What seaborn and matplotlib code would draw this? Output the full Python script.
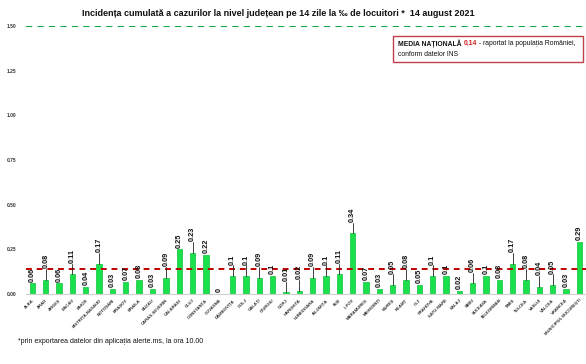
import matplotlib
matplotlib.use("Agg")
import matplotlib.pyplot as plt
import seaborn as sns
import pandas as pd

judete = ["ALBA", "ARAD", "ARGEȘ", "BACĂU", "BIHOR", "BISTRIȚA-NĂSĂUD", "BOTOȘANI",
          "BRAȘOV", "BRĂILA", "BUZĂU", "CARAȘ-SEVERIN", "CĂLĂRAȘI", "CLUJ", "CONSTANȚA",
          "COVASNA", "DÂMBOVIȚA", "DOLJ", "GALAȚI", "GIURGIU", "GORJ", "HARGHITA",
          "HUNEDOARA", "IALOMIȚA", "IAȘI", "ILFOV", "MARAMUREȘ", "MEHEDINȚI", "MUREȘ",
          "NEAMȚ", "OLT", "PRAHOVA", "SATU MARE", "SĂLAJ", "SIBIU", "SUCEAVA",
          "TELEORMAN", "TIMIȘ", "TULCEA", "VASLUI", "VÂLCEA", "VRANCEA",
          "MUNICIPIUL BUCUREȘTI"]
incidenta = [0.06, 0.08, 0.06, 0.11, 0.04, 0.17, 0.03, 0.07, 0.08, 0.03, 0.09, 0.25,
             0.23, 0.22, 0, 0.1, 0.1, 0.09, 0.1, 0.01, 0.02, 0.09, 0.1, 0.11, 0.34,
             0.07, 0.03, 0.05, 0.08, 0.05, 0.1, 0.1, 0.02, 0.06, 0.1, 0.08, 0.17, 0.08,
             0.04, 0.05, 0.03, 0.29]
media_nationala = 0.14
prag = 1.50
yticks = [0.00, 0.25, 0.50, 0.75, 1.00, 1.25, 1.50]

# labels drawn with a small leader line (as in the Excel callouts)
cu_linie = {"ARAD", "BACĂU", "BISTRIȚA-NĂSĂUD", "CARAȘ-SEVERIN", "CLUJ", "DÂMBOVIȚA",
            "DOLJ", "GALAȚI", "GORJ", "HARGHITA", "HUNEDOARA", "IALOMIȚA", "IAȘI",
            "ILFOV", "MUREȘ", "NEAMȚ", "PRAHOVA", "SIBIU", "TIMIȘ", "TULCEA",
            "VASLUI", "VÂLCEA"}

df = pd.DataFrame({"judet": judete, "incidenta": incidenta})

sns.set_style("white")
plt.rcParams["font.family"] = ["Liberation Sans Narrow", "Liberation Sans", "DejaVu Sans"]

fig = plt.figure(figsize=(5.86, 3.64), dpi=100)
ax = fig.add_axes([0.044, 0.192, 0.956, 0.737])

sns.barplot(data=df, x="judet", y="incidenta", color="#19e04b", width=0.4,
            saturation=1, edgecolor="#10c03a", linewidth=0.5, ax=ax)

ax.axhline(prag, color="#10a84a", ls=(0, (3, 2.5)), lw=1.5, zorder=3)
ax.axhline(media_nationala, color="#c00000", ls=(0, (3, 2.5)), lw=1.4, zorder=3)

for i, (j, v) in enumerate(zip(judete, incidenta)):
    txt = "0" if v == 0 else f"{v:g}"
    if j in cu_linie:
        ax.plot([i, i], [v, v + 0.06], color="#222222", lw=0.6, zorder=4)
        y0 = v + 0.065
    else:
        y0 = v + 0.01
    ax.text(i, y0, txt, rotation=90, ha="center", va="bottom", fontsize=5.3,
            fontweight="bold", color="#111111", zorder=5)

ax.set_xlim(-0.5, len(judete) - 0.5)
ax.set_ylim(0, prag)
ax.set_yticks(yticks)
ax.set_yticklabels([f"{t:.2f}" for t in yticks], fontsize=3.5, fontweight="bold",
                   color="#333333")
ax.tick_params(axis="y", length=0, pad=7)
ax.tick_params(axis="x", length=0, pad=3)
ax.set_xticks(range(len(judete)))
ax.set_xticklabels(judete, rotation=45, ha="right", rotation_mode="anchor",
                   fontsize=3.1, fontweight="bold", color="#333333")
ax.set_xlabel("")
ax.set_ylabel("")
for s in ["top", "right", "left"]:
    ax.spines[s].set_visible(False)
ax.spines["bottom"].set_color("#d0d0d0")
ax.spines["bottom"].set_linewidth(0.8)

fig.text(0.475, 0.962, "Incidența cumulată a cazurilor la nivel județean pe 14 zile la ‰ de locuitori *  14 august 2021",
         ha="center", va="center", fontsize=6.5, fontweight="bold", color="#111111")

# legend box with national average
box = plt.Rectangle((0.671, 0.83), 0.324, 0.072, transform=fig.transFigure,
                    fill=False, edgecolor="#c0404a", lw=1.0)
fig.patches.append(box)
t1 = fig.text(0.680, 0.880, "MEDIA NAȚIONALĂ ", fontsize=4.9, fontweight="bold",
              color="#111111", va="center")
fig.canvas.draw()
r = fig.canvas.get_renderer()
bb = t1.get_window_extent(r)
x2 = bb.x1 / fig.bbox.width
t2 = fig.text(x2, 0.880, "0,14", fontsize=4.9, fontweight="bold", color="#d02020", va="center")
bb2 = t2.get_window_extent(r)
x3 = bb2.x1 / fig.bbox.width
fig.text(x3, 0.880, " - raportat la populația României,", fontsize=4.9, color="#111111", va="center")
fig.text(0.680, 0.850, "conform datelor INS", fontsize=4.9, color="#111111", va="center")

fig.text(0.03, 0.063, "*prin exportarea datelor din aplicația alerte.ms, la ora 10.00",
         fontsize=5, color="#111111", va="center")

fig.savefig("out.png", dpi=100)
